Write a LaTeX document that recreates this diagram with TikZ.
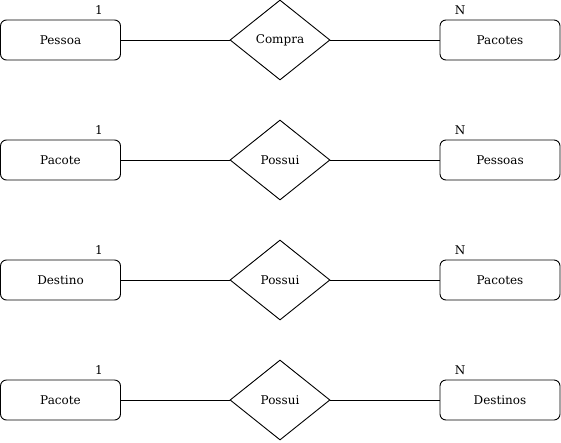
\documentclass[tikz,border=0pt]{standalone}
\usepackage{fontspec}
\setmainfont{DejaVu Serif}
\usetikzlibrary{shapes.geometric}
\begin{document}
\begin{tikzpicture}[x=1pt,y=-1pt,
  ent/.style={draw=black,line width=0.9pt,rounded corners=6pt,minimum width=120pt,minimum height=40pt,inner sep=0pt,font=\fontsize{12pt}{14pt}\selectfont},
  rel/.style={draw=black,line width=0.9pt,diamond,aspect=1.25,minimum width=100pt,minimum height=80pt,inner sep=0pt,font=\fontsize{12pt}{14pt}\selectfont},
  card/.style={inner sep=0pt,font=\fontsize{12pt}{14pt}\selectfont},
  conn/.style={draw=black,line width=0.9pt}]
\useasboundingbox (0,0) rectangle (561,442);
\foreach \i/\l/\r/\m in {0/Pessoa/Pacotes/Compra,1/Pacote/Pessoas/Possui,2/Destino/Pacotes/Possui,3/Pacote/Destinos/Possui}{
  \pgfmathsetmacro{\yy}{40+120*\i}
  \node[ent] (L\i) at (60.5,\yy) {\l};
  \node[rel] (D\i) at (280,\yy) {\m};
  \node[ent] (R\i) at (500,\yy) {\r};
  \node[card] (c\i) at (99,\yy-30) {1};
  \node[card] (n\i) at (460,\yy-30) {N};
  \draw[conn] (L\i.east) -- (D\i.west);
  \draw[conn] (D\i.east) -- (R\i.west);
}
\end{tikzpicture}
\end{document}
